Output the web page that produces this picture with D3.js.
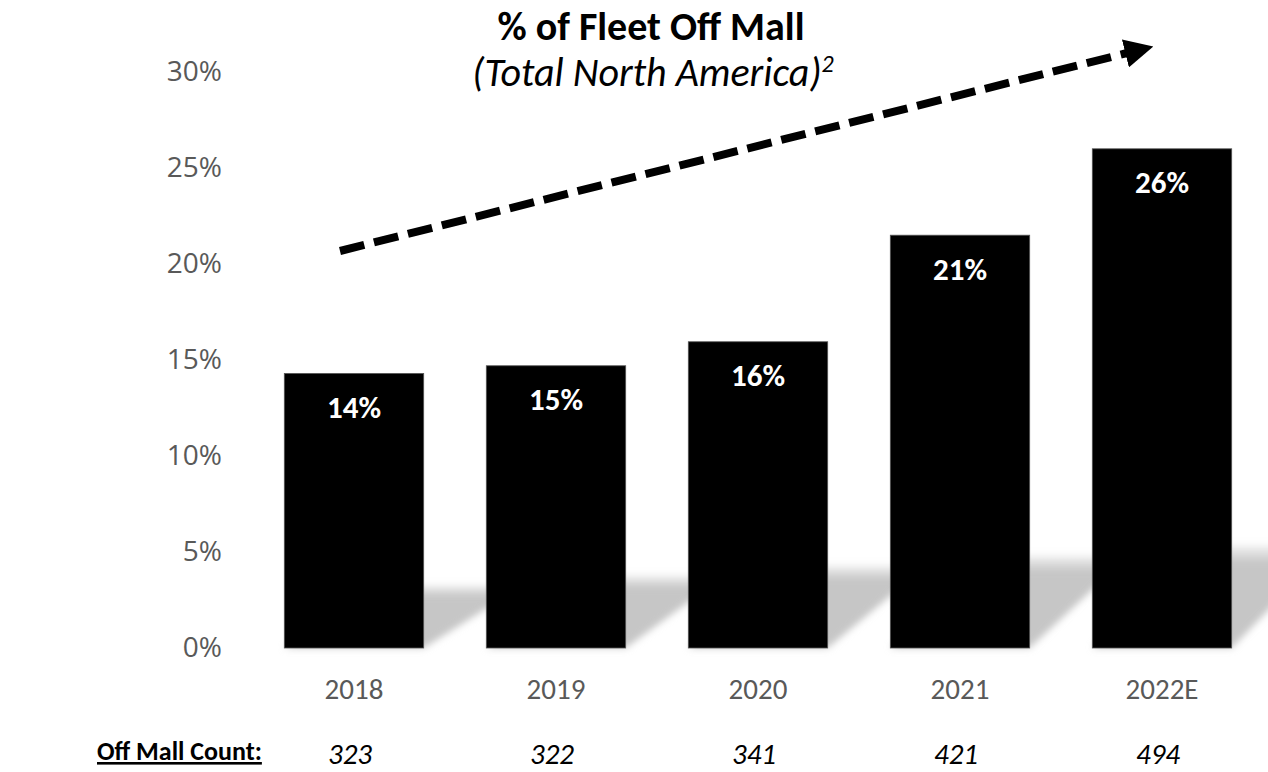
<!DOCTYPE html>
<html>
<head>
<meta charset="utf-8">
<script src="https://cdn.jsdelivr.net/npm/d3@7"></script>
<style>
  body { margin: 0; background: #fff; }
  svg { display: block; }
</style>
</head>
<body>
<div id="chart"></div>
<script>
// chart values
const years = ["2018", "2019", "2020", "2021", "2022E"];
const offMallPct = [0.143, 0.147, 0.1595, 0.215, 0.26];
const barLabels = ["14%", "15%", "16%", "21%", "26%"];
const offMallCount = ["323", "322", "341", "421", "494"];
const yTicks = [0, 0.05, 0.10, 0.15, 0.20, 0.25, 0.30];

const width = 1268, height = 772;
const font = "Carlito, Lato, sans-serif";

const svg = d3.select("#chart")
              .append("svg")
              .attr("width", width)
              .attr("height", height);

const x = d3.scaleBand()
            .domain(years)
            .range([253, 1263])
            .paddingInner(0.31)
            .paddingOuter(0.155);

const y = d3.scaleLinear()
            .domain([0, 0.30])
            .range([648, 72]);

// soft shadow behind the bars
const defs = svg.append("defs");
defs.append("filter")
    .attr("id", "blur")
    .attr("x", "-20%").attr("y", "-20%")
    .attr("width", "140%").attr("height", "140%")
    .append("feGaussianBlur")
    .attr("stdDeviation", 3.5);

const grad = defs.append("linearGradient")
                 .attr("id", "shade")
                 .attr("x1", 0).attr("y1", 0)
                 .attr("x2", 0).attr("y2", 1);
grad.append("stop").attr("offset", "0%").attr("stop-color", "#c6c6c6").attr("stop-opacity", 0.2);
grad.append("stop").attr("offset", "18%").attr("stop-color", "#c6c6c6").attr("stop-opacity", 1);
grad.append("stop").attr("offset", "100%").attr("stop-color", "#c6c6c6").attr("stop-opacity", 1);

svg.append("g")
   .attr("filter", "url(#blur)")
   .selectAll("polygon")
   .data(years)
   .join("polygon")
   .attr("fill", "url(#shade)")
   .attr("points", (d, i) => {
       const x0 = x(d), x1 = x(d) + x.bandwidth();
       const b = y(0), h = 63 + i * 10, dx = 100;
       return [[x0, b], [x1, b], [x1 + dx, b - h], [x0 + dx, b - h]].join(" ");
   });

// bars
svg.append("g")
   .selectAll("rect")
   .data(offMallPct)
   .join("rect")
   .attr("x", (d, i) => x(years[i]))
   .attr("y", d => y(d))
   .attr("width", x.bandwidth())
   .attr("height", d => y(0) - y(d))
   .attr("fill", "#000")
   .attr("stroke", "#555")
   .attr("stroke-width", 0.8);

// labels inside bars
svg.append("g")
   .selectAll("text")
   .data(offMallPct)
   .join("text")
   .attr("x", (d, i) => x(years[i]) + x.bandwidth() / 2)
   .attr("y", d => y(d) + 37)
   .attr("text-anchor", "middle")
   .attr("dominant-baseline", "middle")
   .attr("fill", "#fff")
   .style("font-family", font)
   .style("font-weight", "bold")
   .style("font-size", "31px")
   .text((d, i) => barLabels[i]);

// y axis (labels only)
const yAxis = svg.append("g")
   .attr("transform", "translate(222,0)")
   .call(d3.axisLeft(y).tickValues(yTicks).tickFormat(d3.format(".0%")).tickSize(0).tickPadding(0));
yAxis.select(".domain").remove();
yAxis.selectAll("text")
     .attr("fill", "#595959")
     .style("font-family", "'Open Sans', sans-serif")
     .style("font-size", "28px");

// x axis (labels only)
const xAxis = svg.append("g")
   .attr("transform", "translate(0,678)")
   .call(d3.axisBottom(x).tickSize(0).tickPadding(0));
xAxis.select(".domain").remove();
xAxis.selectAll("text")
     .attr("fill", "#595959")
     .style("font-family", font)
     .style("font-size", "29px");

// trend arrow
defs.append("marker")
    .attr("id", "head")
    .attr("viewBox", "0 0 10 10")
    .attr("refX", 2).attr("refY", 5)
    .attr("markerWidth", 3.6).attr("markerHeight", 3.6)
    .attr("markerUnits", "strokeWidth")
    .attr("orient", "auto")
    .append("path")
    .attr("d", "M0,0 L10,5 L0,10 Z")
    .attr("fill", "#000");

svg.append("line")
   .attr("x1", 340).attr("y1", 251)
   .attr("x2", 1131).attr("y2", 52)
   .attr("stroke", "#000")
   .attr("stroke-width", 8)
   .attr("stroke-dasharray", "25 10")
   .attr("marker-end", "url(#head)");

// title
svg.append("text")
   .attr("x", 651).attr("y", 40)
   .attr("text-anchor", "middle")
   .style("font-family", font)
   .style("font-weight", "bold")
   .style("font-size", "40px")
   .text("% of Fleet Off Mall");

const sub = svg.append("text")
   .attr("x", 653).attr("y", 86)
   .attr("text-anchor", "middle")
   .style("font-family", font)
   .style("font-style", "italic")
   .style("font-size", "40px")
   .text("(Total North America)");
sub.append("tspan")
   .attr("dy", -14)
   .style("font-size", "24px")
   .text("2");

// bottom count row
svg.append("text")
   .attr("x", 97).attr("y", 760)
   .style("font-family", font)
   .style("font-weight", "bold")
   .style("font-size", "26px")
   .style("text-decoration", "underline")
   .text("Off Mall Count:");

svg.append("g")
   .selectAll("text")
   .data(offMallCount)
   .join("text")
   .attr("x", (d, i) => x(years[i]) + x.bandwidth() / 2 - 4)
   .attr("y", 764)
   .attr("text-anchor", "middle")
   .style("font-family", font)
   .style("font-style", "italic")
   .style("font-size", "29px")
   .text(d => d);
</script>
</body>
</html>
